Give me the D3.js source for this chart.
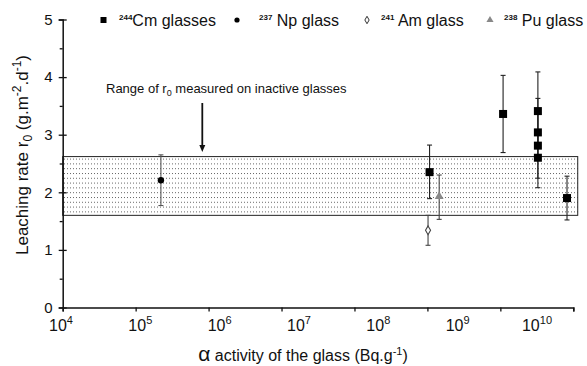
<!DOCTYPE html>
<html>
<head>
<meta charset="utf-8">
<script src="https://cdn.jsdelivr.net/npm/d3@7"></script>
<style>
  body { margin: 0; background: #fff; }
  svg { display: block; font-family: "Liberation Sans", Arial, sans-serif; }
</style>
</head>
<body>
<div id="chart"></div>
<script>
// datos
var cmX  = [1.07e9, 1.09e10, 3.27e10, 3.27e10, 3.27e10, 3.27e10, 8.2e10];
var cmY  = [2.35, 3.36, 3.41, 3.04, 2.81, 2.60, 1.90];
var cmLo = [1.89, 2.69, 2.81, 2.60, 2.245, 2.08, 1.52];
var cmHi = [2.82, 4.03, 4.09, 3.63, 3.41, 3.04, 2.28];

var npX = [2.22e5], npY = [2.21], npLo = [1.77], npHi = [2.65];
var amX = [1.02e9], amY = [1.34], amLo = [1.08], amHi = [1.60];
var puX = [1.45e9], puY = [1.91], puLo = [1.53], puHi = [2.30];

// rango de r0 en vidrios inactivos
var bandLo = 1.6, bandHi = 2.62;

var xTicks = [1e4, 1e5, 1e6, 1e7, 1e8, 1e9, 1e10];
var yTicks = [0, 1, 2, 3, 4, 5];
var yMinor = [0.5, 1.5, 2.5, 3.5, 4.5];

var width = 587, height = 366;

var svg = d3.select("#chart").append("svg")
  .attr("width", width)
  .attr("height", height);

var x = d3.scaleLog().domain([1e4, 1e11]).range([62.7, 573.3]);
var y = d3.scaleLinear().domain([0, 5]).range([307.5, 19.5]);
// las etiquetas del eje x estan desplazadas respecto a las marcas en el original
var xLab = d3.scaleLog().domain([1e4, 1e10]).range([61, 537]);

// patron de puntos para la banda
var defs = svg.append("defs");
var pat = defs.append("pattern")
  .attr("id", "dots")
  .attr("patternUnits", "userSpaceOnUse")
  .attr("x", 64).attr("y", y(bandHi) + 2)
  .attr("width", 3).attr("height", 4.8);
pat.append("rect").attr("x", 0).attr("y", 0).attr("width", 1).attr("height", 1).attr("fill", "#666");

svg.append("rect")
  .attr("x", x(1e4))
  .attr("y", y(bandHi))
  .attr("width", x(1.15e11) - x(1e4))
  .attr("height", y(bandLo) - y(bandHi))
  .attr("fill", "url(#dots)")
  .attr("stroke", "#222")
  .attr("stroke-width", 1);

// eje x
var gx = svg.append("g")
  .attr("transform", "translate(0," + y(0) + ")")
  .call(d3.axisBottom(x).tickValues(xTicks.concat([1e11])).tickSize(4).tickFormat(""));
gx.select(".domain").attr("stroke", "#111").attr("stroke-width", 1.5);
gx.selectAll(".tick line").attr("stroke", "#111").attr("stroke-width", 1.3);

xTicks.forEach(function(v) {
  var e = Math.round(Math.log10(v));
  var t = svg.append("text")
    .attr("x", xLab(v))
    .attr("y", 331)
    .attr("text-anchor", "middle")
    .attr("font-size", 16)
    .attr("fill", "#111");
  t.append("tspan").text("10");
  t.append("tspan").attr("dy", -7).attr("font-size", 11).text(e);
});

// eje y
var gy = svg.append("g")
  .attr("transform", "translate(" + x(1e4) + ",0)")
  .call(d3.axisLeft(y).tickValues(yTicks).tickSize(4).tickFormat(d3.format("d")).tickPadding(6));
gy.select(".domain").attr("stroke", "#111").attr("stroke-width", 1.5);
gy.selectAll(".tick line").attr("x1", 4).attr("stroke", "#111").attr("stroke-width", 1.3);
gy.selectAll(".tick text").attr("font-size", 15).attr("fill", "#111")
  .attr("font-family", "Liberation Sans, Arial, sans-serif");

var gm = svg.append("g")
  .attr("transform", "translate(" + x(1e4) + ",0)")
  .call(d3.axisLeft(y).tickValues(yMinor).tickSize(3).tickFormat(""));
gm.select(".domain").remove();
gm.selectAll(".tick line").attr("stroke", "#111").attr("stroke-width", 1.3);

// titulos de ejes
var yt = svg.append("text")
  .attr("transform", "translate(28,155) rotate(-90)")
  .attr("text-anchor", "middle")
  .attr("font-size", 17)
  .attr("fill", "#111");
yt.append("tspan").text("Leaching rate r");
yt.append("tspan").attr("dy", 4).attr("font-size", 12).text("0");
yt.append("tspan").attr("dy", -4).text(" (g.m");
yt.append("tspan").attr("dy", -7).attr("font-size", 12).text("-2");
yt.append("tspan").attr("dy", 7).text(".d");
yt.append("tspan").attr("dy", -7).attr("font-size", 12).text("-1");
yt.append("tspan").attr("dy", 7).text(")");

var xt = svg.append("text")
  .attr("x", 303)
  .attr("y", 361)
  .attr("text-anchor", "middle")
  .attr("font-size", 16)
  .attr("fill", "#111");
xt.append("tspan").attr("font-size", 21).text("α");
xt.append("tspan").text(" activity of the glass (Bq.g");
xt.append("tspan").attr("dy", -6).attr("font-size", 11).text("-1");
xt.append("tspan").attr("dy", 6).text(")");

// anotacion
var an = svg.append("text")
  .attr("x", 106)
  .attr("y", 93)
  .attr("font-size", 13)
  .attr("fill", "#111");
an.append("tspan").text("Range of r");
an.append("tspan").attr("dy", 3).attr("font-size", 9).text("0");
an.append("tspan").attr("dy", -3).text(" measured on inactive glasses");

var ax = x(8.2e5);
svg.append("line")
  .attr("x1", ax).attr("x2", ax)
  .attr("y1", 103).attr("y2", 147)
  .attr("stroke", "#111").attr("stroke-width", 1.8);
svg.append("path")
  .attr("d", "M" + (ax - 3) + ",145 L" + (ax + 3) + ",145 L" + ax + ",152 Z")
  .attr("fill", "#111");

// barras de error
function errorBars(xs, lo, hi, color) {
  var g = svg.append("g").attr("stroke", color).attr("stroke-width", 1.1);
  xs.forEach(function(v, i) {
    var cx = x(v);
    g.append("line").attr("x1", cx).attr("x2", cx).attr("y1", y(lo[i])).attr("y2", y(hi[i]));
    g.append("line").attr("x1", cx - 2.5).attr("x2", cx + 2.5).attr("y1", y(lo[i])).attr("y2", y(lo[i]));
    g.append("line").attr("x1", cx - 2.5).attr("x2", cx + 2.5).attr("y1", y(hi[i])).attr("y2", y(hi[i]));
  });
}

errorBars(npX, npLo, npHi, "#555");
errorBars(amX, amLo, amHi, "#444");
errorBars(puX, puLo, puHi, "#444");
errorBars(cmX, cmLo, cmHi, "#222");

// marcadores
svg.selectAll(".cm").data(cmX).enter().append("rect")
  .attr("x", function(d) { return x(d) - 4; })
  .attr("y", function(d, i) { return y(cmY[i]) - 4; })
  .attr("width", 8).attr("height", 8)
  .attr("fill", "#000");

svg.selectAll(".np").data(npX).enter().append("circle")
  .attr("cx", function(d) { return x(d); })
  .attr("cy", function(d, i) { return y(npY[i]); })
  .attr("r", 3.2)
  .attr("fill", "#000");

var diamond = d3.symbol().type(d3.symbolDiamond).size(22);
svg.selectAll(".am").data(amX).enter().append("path")
  .attr("d", diamond)
  .attr("transform", function(d, i) { return "translate(" + x(d) + "," + y(amY[i]) + ")"; })
  .attr("fill", "#fff").attr("stroke", "#444").attr("stroke-width", 1.1);

var tri = d3.symbol().type(d3.symbolTriangle).size(34);
svg.selectAll(".pu").data(puX).enter().append("path")
  .attr("d", tri)
  .attr("transform", function(d, i) { return "translate(" + x(d) + "," + (y(puY[i]) - 1) + ")"; })
  .attr("fill", "#888");

// leyenda
var leg = svg.append("g");
leg.append("rect").attr("x", 100.5).attr("y", 17).attr("width", 6).attr("height", 6).attr("fill", "#000");
leg.append("circle").attr("cx", 237).attr("cy", 20).attr("r", 2.6).attr("fill", "#000");
leg.append("path").attr("d", d3.symbol().type(d3.symbolDiamond).size(16))
  .attr("transform", "translate(367,20)").attr("fill", "#fff").attr("stroke", "#333").attr("stroke-width", 1);
leg.append("path").attr("d", d3.symbol().type(d3.symbolTriangle).size(22))
  .attr("transform", "translate(490,20)").attr("fill", "#888");

var legItems = [
  { sup: "244", label: "Cm glasses", x: 119 },
  { sup: "237", label: " Np glass", x: 259 },
  { sup: "241", label: " Am glass", x: 381 },
  { sup: "238", label: " Pu glass", x: 504 }
];
legItems.forEach(function(d) {
  var t = leg.append("text")
    .attr("x", d.x)
    .attr("y", 26)
    .attr("font-size", 16)
    .attr("fill", "#111");
  t.append("tspan").attr("dy", -6).attr("font-size", 8).attr("font-weight", "bold").text(d.sup);
  t.append("tspan").attr("dy", 6).text(d.label);
});
</script>
</body>
</html>
